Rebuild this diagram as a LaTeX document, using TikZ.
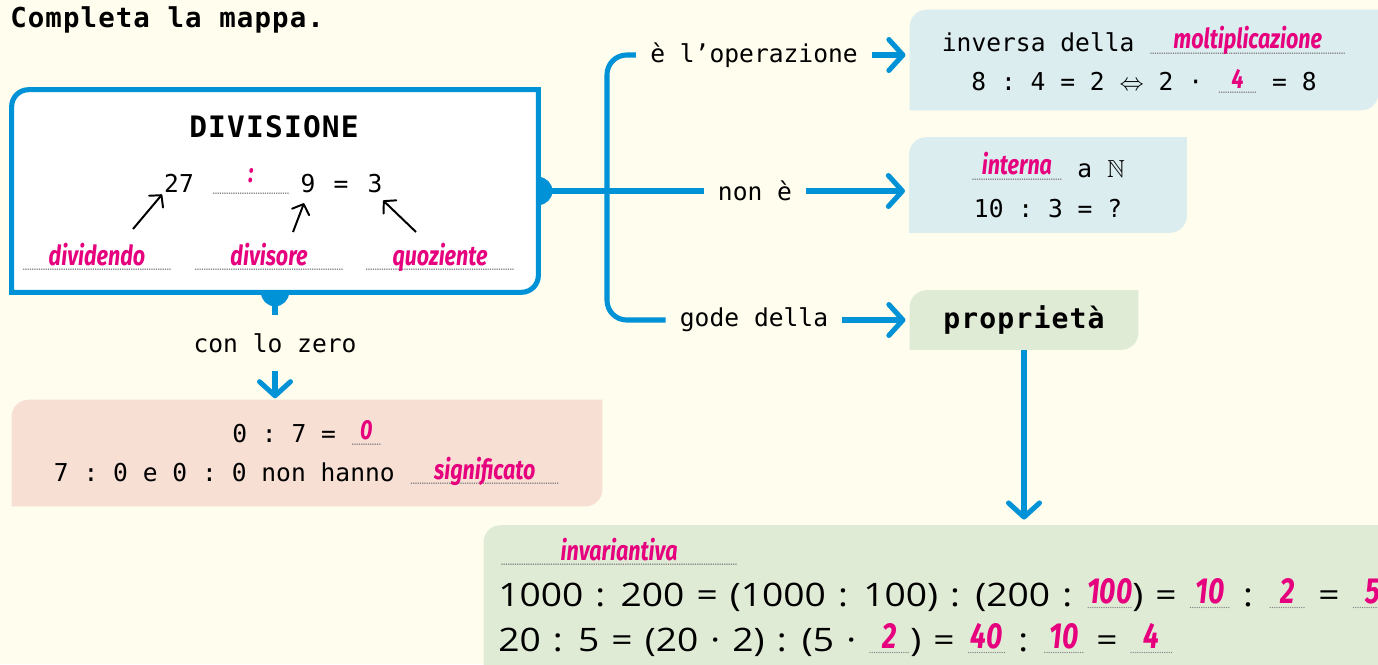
\documentclass[tikz,border=0pt]{standalone}
\usepackage{fontspec}
\usepackage{amssymb}
\setmainfont{Open Sans}[FakeStretch=1.15,WordSpace=1.25]
\setmonofont{DejaVu Sans Mono}
\newfontfamily\handfont[FakeStretch=0.78,Scale=1.12]{Fira Sans}
\newfontfamily\headfont[LetterSpace=4]{DejaVu Sans Mono}
\usetikzlibrary{arrows.meta,backgrounds}

\definecolor{mapblue}{RGB}{0,146,214}
\definecolor{answer}{RGB}{230,0,126}
\definecolor{paper}{RGB}{255,253,238}
\definecolor{boxblue}{RGB}{220,237,240}
\definecolor{boxgreen}{RGB}{224,235,214}
\definecolor{boxpink}{RGB}{248,223,212}
\definecolor{dotgrey}{RGB}{130,130,130}

\newcommand{\bodyfont}{\ttfamily\fontsize{17.5}{28}\selectfont}
\newcommand{\eqfont}{\rmfamily\fontsize{23}{32}\selectfont}
% dotted blank with the written answer on it
\newcommand{\dotrule}[1]{\makebox[#1]{\color{dotgrey}\fontsize{7}{7}\selectfont\cleaders\hbox to 1.6pt{\hss.\hss}\hfill}}
\newcommand{\fillin}[2]{\rlap{\raisebox{-2pt}{\dotrule{#1}}}\makebox[#1]{\raisebox{2pt}{\handfont\bfseries\itshape\color{answer}#2}}}
% box with two rounded corners
\newcommand{\leafbox}[2]{\path[#2] (#1.south west) [rounded corners=12pt] -- (#1.north west) [sharp corners] -- (#1.north east) [rounded corners=12pt] -- (#1.south east) [sharp corners] -- cycle;}

\begin{document}
\begin{tikzpicture}[x=0.025cm, y=-0.025cm,
    body/.style={font=\bodyfont, inner sep=0pt},
    head/.style={font=\headfont\bfseries\fontsize{20}{24}\selectfont, inner sep=0pt},
    boxnode/.style={align=center, font=\bodyfont, inner sep=0pt},
    link/.style={draw=mapblue, line width=3.6pt},
    arrowlink/.style={link, -{Straight Barb[length=10pt, width=22pt, round]}},
    pointer/.style={draw=black, line width=1.4pt, -{Straight Barb[length=6pt, width=13pt, round]}}]
    \useasboundingbox (0,0) rectangle (1378,664);

    % Title
    \node[head, anchor=west, font=\headfont\bfseries\fontsize{19.5}{22}\selectfont] (title) at (10,20) {Completa la mappa.};

    % DIVISIONE box
    \node[minimum width=13.15cm, minimum height=5.05cm, inner sep=0pt] (div) at (275,191) {};
    \node[head, font=\headfont\bfseries\fontsize{21}{24}\selectfont] (divtitle) at (274,127) {DIVISIONE};
    \node[body, anchor=base] (n27) at (179,192) {27};
    \node[body, anchor=base] (opblank) at (251,192) {\fillin{55pt}{\raisebox{5pt}{:}}};
    \node[body, anchor=base] (n9) at (308,192) {9};
    \node[body, anchor=base] (eqsign) at (341,192) {=};
    \node[body, anchor=base] (n3) at (375,192) {3};
    \node[body, anchor=base] (ldiv) at (97,268) {\fillin{106pt}{dividendo}};
    \node[body, anchor=base] (ldvs) at (269,268) {\fillin{106pt}{divisore}};
    \node[body, anchor=base] (lquo) at (440,268) {\fillin{106pt}{quoziente}};
    \coordinate (t1) at (133,229);
    \coordinate (t2) at (293,232);
    \coordinate (t3) at (416,232);
    \draw[pointer, shorten >=2pt] (t1) -- (n27.south west);
    \draw[pointer, shorten >=8pt] (t2) -- (n9.south);
    \draw[pointer, shorten >=8pt] (t3) -- (n3.south);

    % Branch labels
    \node[body, inner xsep=10pt] (oper) at (754,55) {è l’operazione};
    \node[body, inner xsep=10pt] (none) at (755,191) {non è};
    \node[body, inner xsep=10pt] (gode) at (754,320) {gode della};
    \coordinate (brk) at (607,191);

    % Boxes on the right
    \node[boxnode, minimum width=11.7cm, minimum height=2.5cm] (inverse) at (1144,60)
        {inversa della \fillin{140pt}{moltiplicazione}\\ 8 : 4 = 2 $\Leftrightarrow$ 2 · \fillin{28pt}{4} = 8};
    \node[boxnode, minimum width=6.925cm, minimum height=2.375cm] (closure) at (1048,185)
        {\fillin{65pt}{interna} a $\mathbb{N}$\\ 10 : 3 = ?};
    \node[head, minimum width=5.7cm, minimum height=1.475cm] (props) at (1024,320) {proprietà};

    % Zero
    \node[body] (zero) at (275,343) {con lo zero};
    \node[boxnode, minimum width=14.75cm, minimum height=2.65cm] (zerobox) at (307,453)
        {0 : 7 = \fillin{22pt}{0}\\ 7 : 0 e 0 : 0 non hanno \fillin{107pt}{significato}};

    % Invariantiva
    \node[minimum width=22.9cm, minimum height=3.875cm, inner sep=0pt] (invbox) at (942,603) {};
    \node[body, anchor=base west] (invname) at (500,563) {\fillin{169pt}{invariantiva}};
    \node[anchor=base west, font=\eqfont, inner sep=0pt] (inv1) at (498,606)
        {1000 : 200 = (1000 : 100) : (200 : \fillin{32pt}{100}) = \fillin{30pt}{10} : \fillin{27pt}{2} = \fillin{30pt}{5}};
    \node[anchor=base west, font=\eqfont, inner sep=0pt] (inv2) at (498,651)
        {20 : 5 = (20 · 2) : (5 · \fillin{30pt}{2}) = \fillin{28pt}{40} : \fillin{29pt}{10} = \fillin{31pt}{4}};

    % Connectors
    \draw[link] (div.east) -- (none.west);
    \draw[link, rounded corners=14pt] (oper.west) -| (brk) |- (gode.west);
    \draw[arrowlink, shorten >=3pt] (oper.east) -- (oper.east -| inverse.west);
    \draw[arrowlink, shorten >=3pt] (none.east) -- (none.east -| closure.west);
    \draw[arrowlink, shorten >=3pt] (gode.east) -- (gode.east -| props.west);
    \draw[arrowlink, shorten >=4pt] (props.south) -- (props.south |- invbox.north);
    \draw[link, shorten >=13pt] (div.south) -- (zero.north);
    \draw[arrowlink, shorten <=13pt, shorten >=1pt] (zero.south) -- (zero.south |- zerobox.north);

    % Backgrounds
    \begin{scope}[on background layer]
        \fill[paper] (0,0) rectangle (1378,664);
        \fill[mapblue] (div.east) circle (10pt);
        \fill[mapblue] (div.south) circle (10pt);
        \leafbox{div}{fill=white, draw=mapblue, line width=3.6pt}
        \leafbox{inverse}{fill=boxblue}
        \leafbox{closure}{fill=boxblue}
        \leafbox{props}{fill=boxgreen}
        \leafbox{zerobox}{fill=boxpink}
        \leafbox{invbox}{fill=boxgreen}
    \end{scope}
\end{tikzpicture}
\end{document}
